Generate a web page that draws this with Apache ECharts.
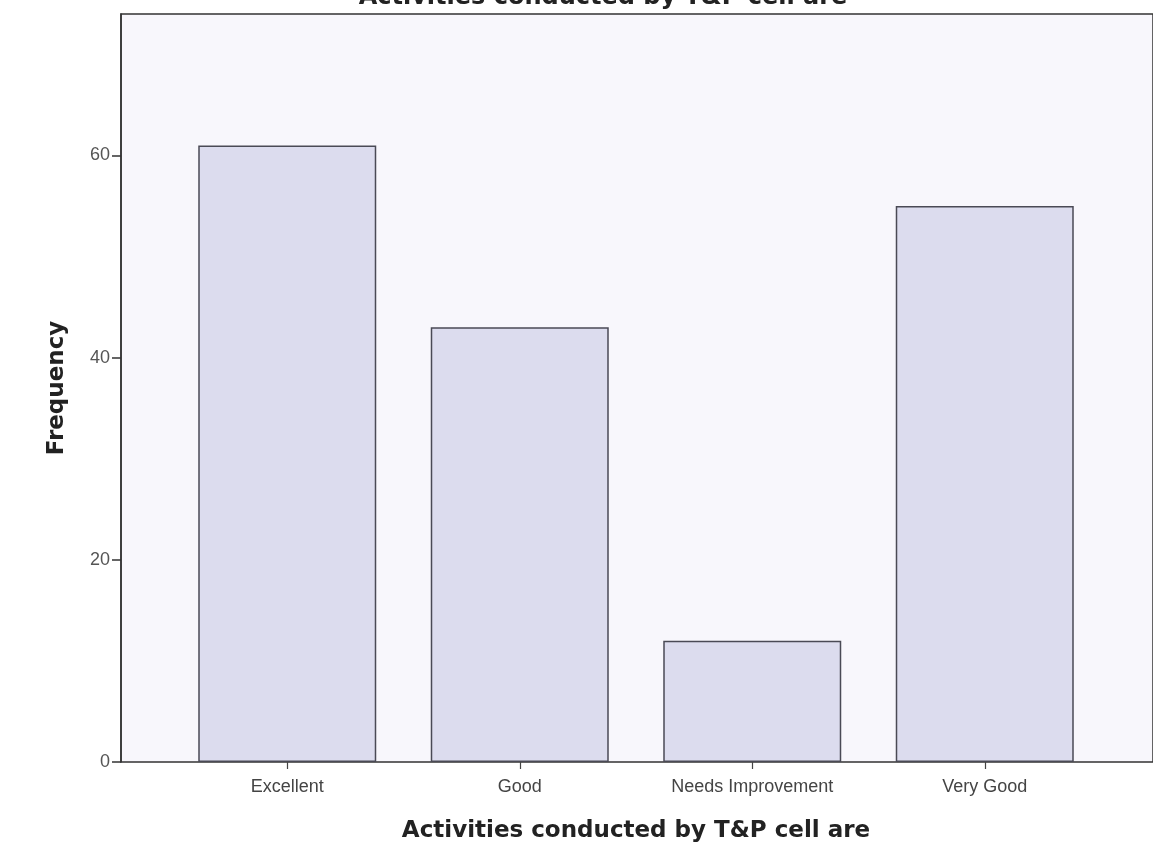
<!DOCTYPE html>
<html>
<head>
<meta charset="utf-8">
<script src="https://cdn.jsdelivr.net/npm/echarts@6/dist/echarts.min.js"></script>
<style>
html,body{margin:0;padding:0;background:#ffffff;}
#chart{width:1153px;height:851px;}
</style>
</head>
<body>
<div id="chart"></div>
<script>
const categories = ['Excellent', 'Good', 'Needs Improvement', 'Very Good'];
const frequency = [61, 43, 12, 55];
const yTicks = [0, 20, 40, 60];
const yMax = 74;
const titleText = 'Activities conducted by T&P cell are';

const chart = echarts.init(document.getElementById('chart'));
chart.setOption({
  animation: false,
  backgroundColor: '#ffffff',
  title: {
    text: titleText,
    left: 598,
    textAlign: 'center',
    top: -19,
    textStyle: {fontFamily: 'DejaVu Sans', fontSize: 24, fontWeight: 'bold', color: '#222'}
  },
  grid: [
    {left: 121, right: -5, top: 14, bottom: 89, show: true, backgroundColor: '#f8f7fc', borderColor: '#333', borderWidth: 1.5},
    {left: 171, right: 52, top: 14, bottom: 89}
  ],
  xAxis: [
    {gridIndex: 0, type: 'value', min: 0, max: 1, show: false},
    {
      gridIndex: 1, type: 'category', data: categories,
      axisLine: {show: false},
      axisTick: {show: true, alignWithLabel: true, length: 7, lineStyle: {color: '#444', width: 1.2}},
      axisLabel: {margin: 16, fontFamily: 'Liberation Sans, Arial', fontSize: 18, color: '#444'},
      name: titleText, nameLocation: 'middle', nameGap: 58,
      nameTextStyle: {fontFamily: 'DejaVu Sans', fontSize: 23, fontWeight: 'bold', color: '#222'}
    }
  ],
  yAxis: [
    {
      gridIndex: 0, type: 'value', min: 0, max: yMax,
      splitLine: {show: false},
      axisLine: {show: true, lineStyle: {color: '#333', width: 1.5}},
      axisTick: {show: true, length: 9, customValues: yTicks, lineStyle: {color: '#333', width: 1.5}},
      axisLabel: {customValues: yTicks, margin: 11, fontFamily: 'Liberation Sans, Arial', fontSize: 18, color: '#555'},
      name: 'Frequency', nameLocation: 'middle', nameGap: 52, nameRotate: 90,
      nameTextStyle: {fontFamily: 'DejaVu Sans', fontSize: 23, fontWeight: 'bold', color: '#222'}
    },
    {gridIndex: 1, type: 'value', min: 0, max: yMax, show: false, splitLine: {show: false}}
  ],
  series: [{
    type: 'bar',
    xAxisIndex: 1, yAxisIndex: 1,
    data: frequency,
    barWidth: 178,
    itemStyle: {color: '#dcdcee', borderColor: '#4a4a55', borderWidth: 1.5}
  }]
});
</script>
</body>
</html>
